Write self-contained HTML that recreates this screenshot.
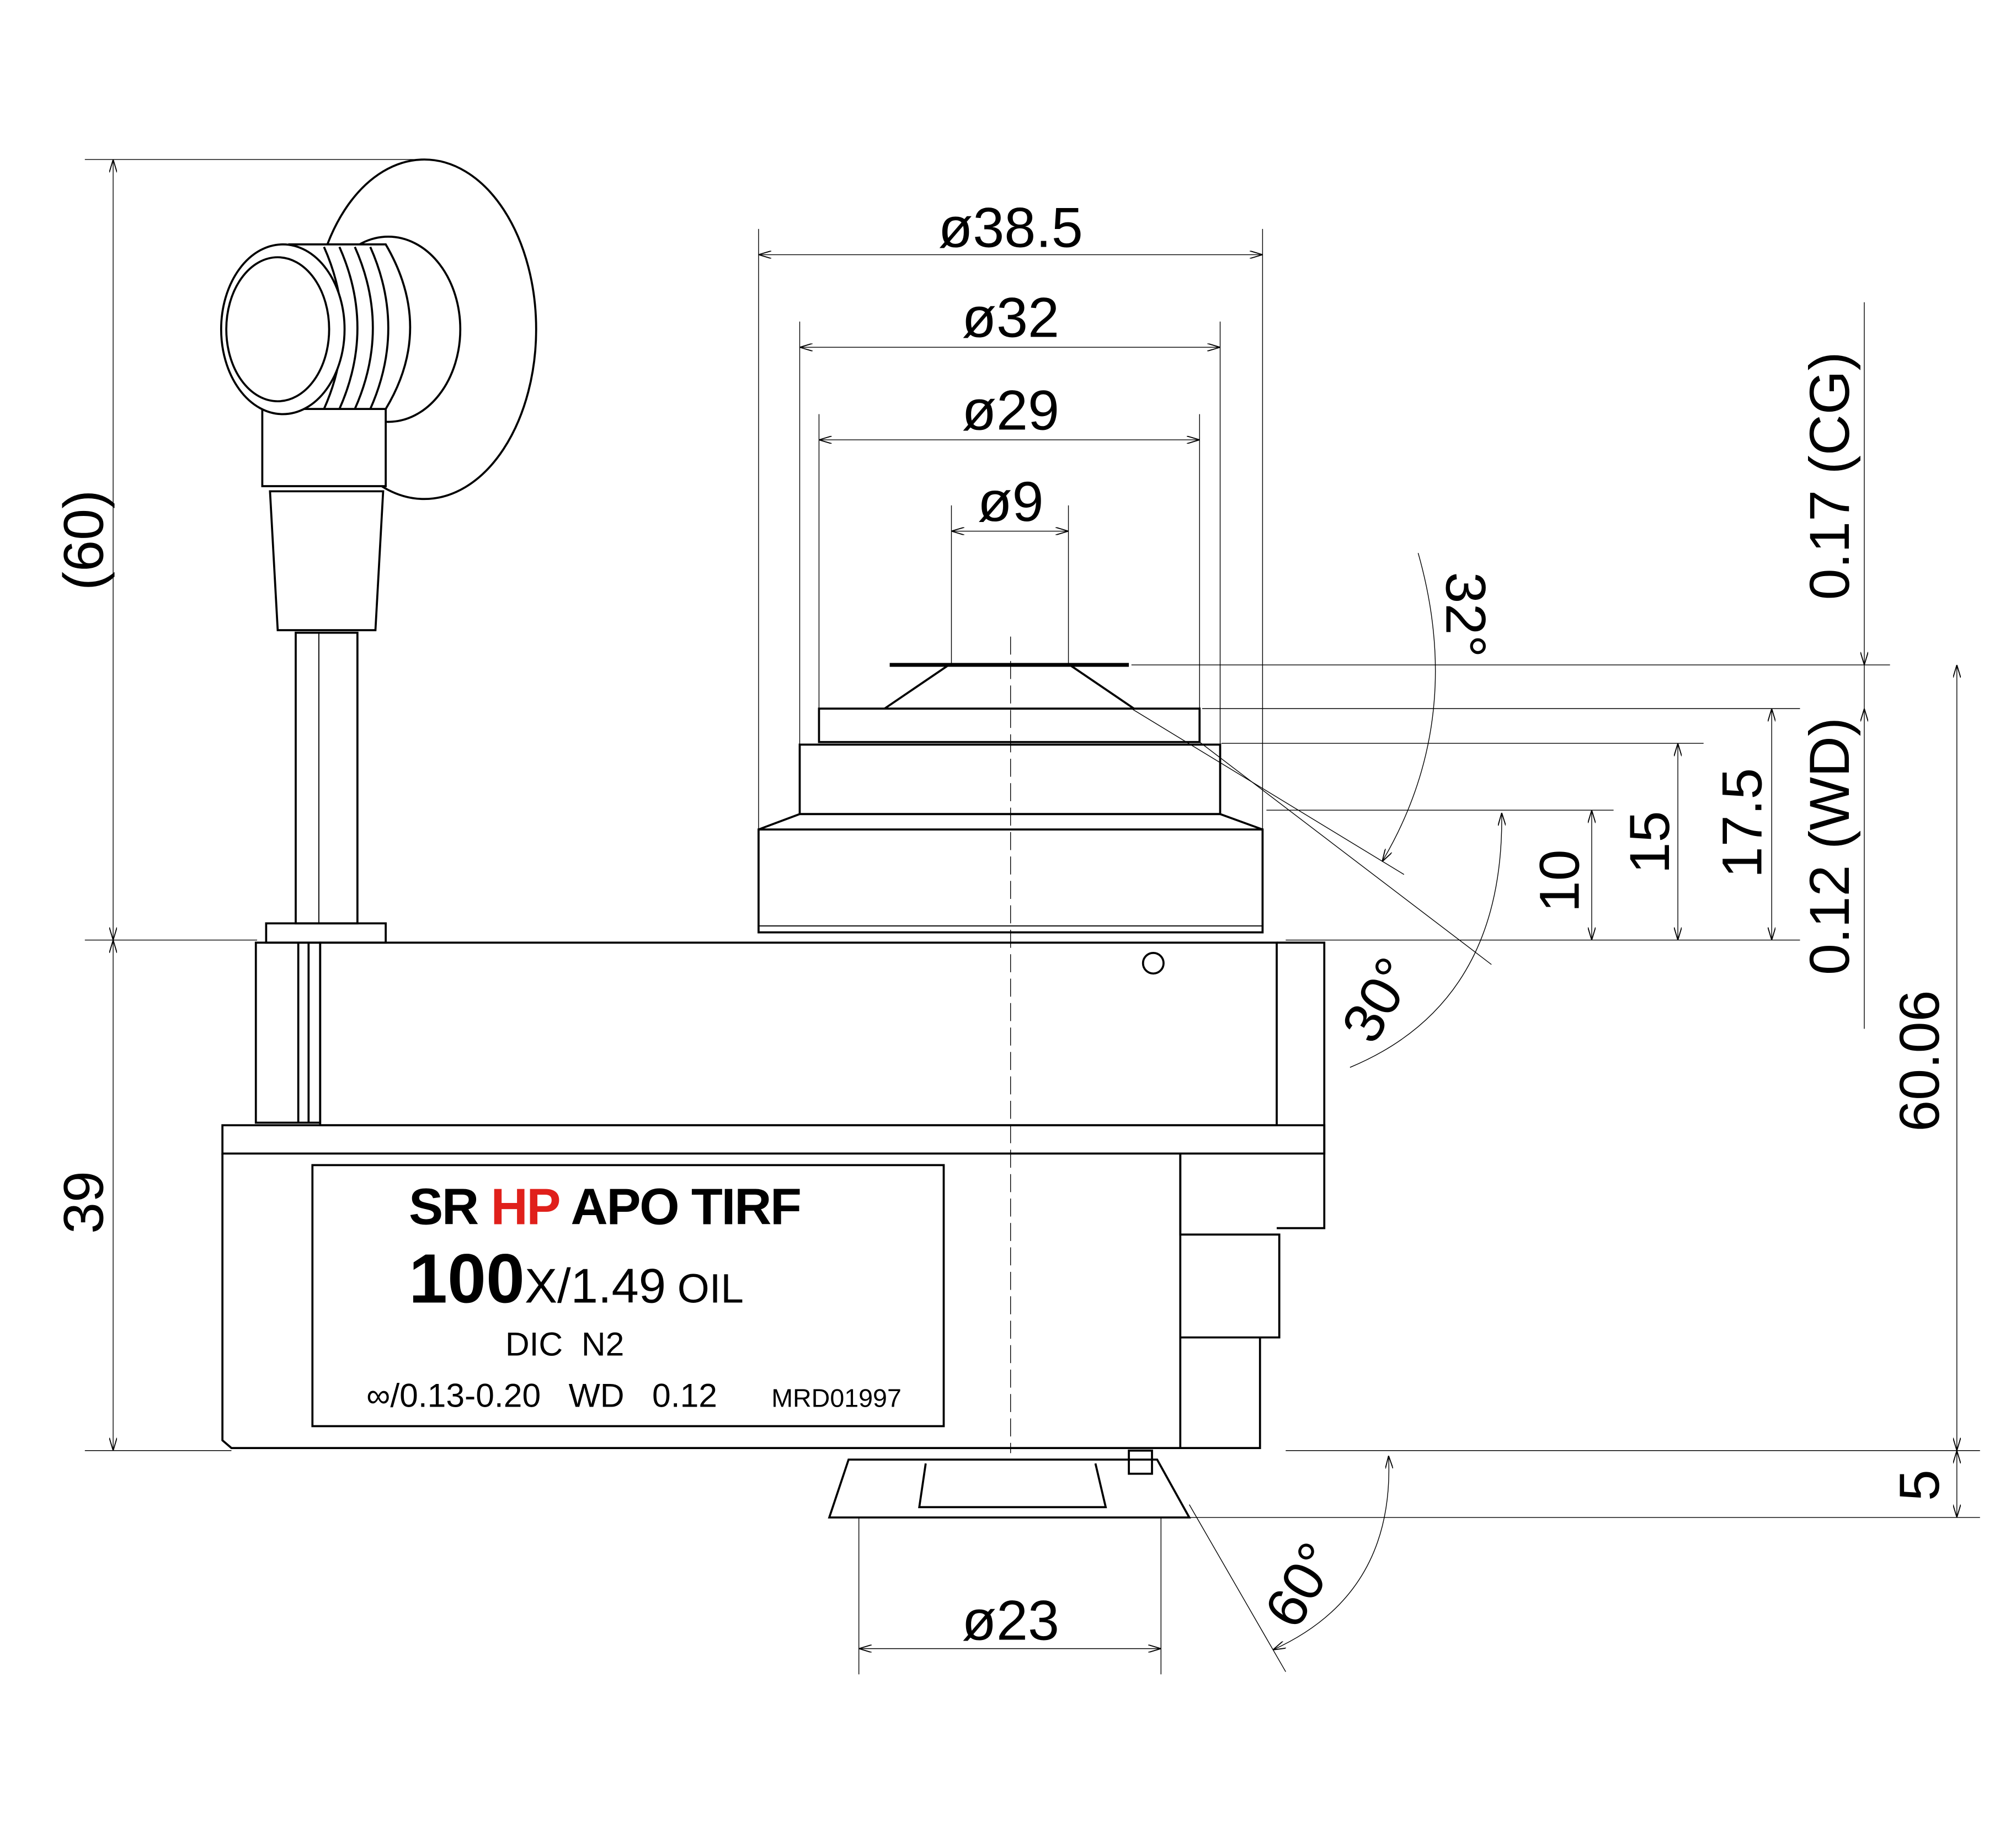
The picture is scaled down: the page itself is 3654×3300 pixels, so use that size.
<!DOCTYPE html>
<html><head><meta charset="utf-8"><style>html,body{margin:0;padding:0;background:#fff}svg{display:block}</style></head><body>
<svg width="3654" height="3300" viewBox="0 0 1568 1416" xmlns="http://www.w3.org/2000/svg" font-family="Liberation Sans, Arial, sans-serif">
<defs><marker id="a" viewBox="0 0 10 6" refX="10" refY="3" markerWidth="10" markerHeight="6" orient="auto-start-reverse" markerUnits="userSpaceOnUse"><path d="M0,0 L10,3 L0,6" fill="none" stroke="#000" stroke-width="0.8"/></marker></defs>
<g stroke="#000" stroke-width="0.6" fill="none">
<line x1="66" y1="124" x2="335" y2="124"/>
<line x1="66" y1="731" x2="200" y2="731"/>
<line x1="66" y1="1128" x2="180" y2="1128"/>
<line x1="88" y1="124" x2="88" y2="731" marker-start="url(#a)" marker-end="url(#a)"/>
<line x1="88" y1="731" x2="88" y2="1128" marker-start="url(#a)" marker-end="url(#a)"/>
<line x1="590" y1="178" x2="590" y2="645"/><line x1="982" y1="178" x2="982" y2="645"/>
<line x1="590" y1="198" x2="982" y2="198" marker-start="url(#a)" marker-end="url(#a)"/>
<line x1="622" y1="250" x2="622" y2="579"/><line x1="949" y1="250" x2="949" y2="579"/>
<line x1="622" y1="270" x2="949" y2="270" marker-start="url(#a)" marker-end="url(#a)"/>
<line x1="637" y1="322" x2="637" y2="551"/><line x1="933" y1="322" x2="933" y2="551"/>
<line x1="637" y1="342" x2="933" y2="342" marker-start="url(#a)" marker-end="url(#a)"/>
<line x1="740" y1="393" x2="740" y2="517"/><line x1="831" y1="393" x2="831" y2="517"/>
<line x1="740" y1="413" x2="831" y2="413" marker-start="url(#a)" marker-end="url(#a)"/>
<line x1="786" y1="495" x2="786" y2="1130" stroke-dasharray="14,5"/>
<line x1="880" y1="517" x2="1470" y2="517"/>
<line x1="935" y1="551" x2="1400" y2="551"/>
<line x1="950" y1="578" x2="1325" y2="578"/>
<line x1="985" y1="630" x2="1255" y2="630"/>
<line x1="1000" y1="731" x2="1400" y2="731"/>
<line x1="1000" y1="1128" x2="1540" y2="1128"/>
<line x1="925" y1="1180" x2="1540" y2="1180"/>
<line x1="1238" y1="630" x2="1238" y2="731" marker-start="url(#a)" marker-end="url(#a)"/>
<line x1="1305" y1="578" x2="1305" y2="731" marker-start="url(#a)" marker-end="url(#a)"/>
<line x1="1378" y1="551" x2="1378" y2="731" marker-start="url(#a)" marker-end="url(#a)"/>
<line x1="1450" y1="235" x2="1450" y2="517" marker-end="url(#a)"/>
<line x1="1450" y1="517" x2="1450" y2="551" />
<line x1="1450" y1="551" x2="1450" y2="800" marker-start="url(#a)"/>
<line x1="1522" y1="517" x2="1522" y2="1128" marker-start="url(#a)" marker-end="url(#a)"/>
<line x1="1522" y1="1128" x2="1522" y2="1180" marker-start="url(#a)" marker-end="url(#a)"/>
<line x1="880" y1="551" x2="1092" y2="680"/>
<path d="M1103,430 Q1140,560 1075,670" marker-end="url(#a)"/>
<line x1="933" y1="577" x2="1160" y2="750"/>
<path d="M1168,632 Q1170,780 1050,830" marker-start="url(#a)"/>
<line x1="925" y1="1170" x2="1000" y2="1300"/>
<path d="M1080,1132 Q1085,1240 990,1283" marker-start="url(#a)" marker-end="url(#a)"/>
<line x1="668" y1="1180" x2="668" y2="1302"/><line x1="903" y1="1180" x2="903" y2="1302"/>
<line x1="668" y1="1282" x2="903" y2="1282" marker-start="url(#a)" marker-end="url(#a)"/>
</g>
<g stroke="#000" stroke-width="1.6" fill="none">
<rect x="590" y="645" width="392" height="80"/>
<line x1="590" y1="720" x2="982" y2="720" stroke-width="0.8"/>
<path d="M590,645 L622,633 L949,633 L982,645"/>
<rect x="622" y="579" width="327" height="54"/>
<rect x="637" y="551" width="296" height="26"/>
<path d="M688,551 L738,517 M832,517 L882,551"/>
<line x1="692" y1="517" x2="878" y2="517" stroke-width="3"/>
<rect x="249" y="733" width="744" height="142"/>
<path d="M993,733 L1030,733 L1030,955 L993,955"/>
<rect x="173" y="875" width="857" height="22"/>
<path d="M173,897 L173,1120 L180,1126 L918,1126 L918,897"/>
<path d="M918,897 L918,960 L995,960 L995,1040 L918,1040 M918,1040 L980,1040 L980,1126 L918,1126"/>
<circle cx="897" cy="749" r="8"/>
<rect x="243" y="906" width="491" height="203"/>
<path d="M660,1135 L900,1135 L925,1180 L645,1180 Z"/>
<path d="M720,1138 L715,1172 L860,1172 L852,1138"/>
<rect x="878" y="1128" width="18" height="18"/>
<rect x="207" y="718" width="93" height="15"/>
<rect x="199" y="733" width="50" height="140"/>
<line x1="232" y1="733" x2="232" y2="873"/><line x1="240" y1="733" x2="240" y2="873"/>
<rect x="230" y="492" width="48" height="226"/>
<line x1="248" y1="492" x2="248" y2="718" stroke-width="0.8"/>
<ellipse cx="330" cy="256" rx="87" ry="132" fill="#fff"/>
<ellipse cx="302" cy="256" rx="56" ry="72" fill="#fff"/>
<path d="M210,382 L298,382 L292,490 L216,490 Z" fill="#fff"/>
<path d="M204,318 L300,318 L300,378 L204,378 Z" fill="#fff"/>
<path d="M225,190 L300,190 Q338,255 300,318 L225,318 Z" fill="#fff"/>
<path d="M252,192 Q280,255 252,318 M264,192 Q292,255 264,318 M276,192 Q304,255 276,318 M288,192 Q316,255 288,318"/>
<ellipse cx="220" cy="256" rx="48" ry="66" fill="#fff"/>
<ellipse cx="216" cy="256" rx="40" ry="56"/>
</g>
<g font-size="44" text-anchor="middle" fill="#000">
<text x="786" y="192">ø38.5</text>
<text x="786" y="262">ø32</text>
<text x="786" y="334">ø29</text>
<text x="786" y="405">ø9</text>
<text x="786" y="1275">ø23</text>
<text transform="translate(80,420) rotate(-90)">(60)</text>
<text transform="translate(80,935) rotate(-90)">39</text>
<text transform="translate(1228,685) rotate(-90)">10</text>
<text transform="translate(1298,655) rotate(-90)">15</text>
<text transform="translate(1370,640) rotate(-90)">17.5</text>
<text transform="translate(1438,370) rotate(-90)">0.17 (CG)</text>
<text transform="translate(1438,658) rotate(-90)">0.12 (WD)</text>
<text transform="translate(1508,825) rotate(-90)">60.06</text>
<text transform="translate(1508,1155) rotate(-90)">5</text>
<text transform="translate(1125,478) rotate(90)">32°</text>
<text transform="translate(1085,785) rotate(-60)">30°</text>
<text transform="translate(1025,1240) rotate(-60)">60°</text>
</g>
<g fill="#000" font-weight="bold">
<text x="318" y="952" font-size="40" letter-spacing="-1">SR <tspan fill="#e0201b">HP</tspan> APO TIRF</text>
<text x="318" y="1013" font-size="54">100<tspan font-weight="normal" font-size="38">X/1.49</tspan><tspan font-weight="normal" font-size="32"> OIL</tspan></text>
</g>
<g fill="#000" font-size="26">
<text x="393" y="1054">DIC&#160;&#160;N2</text>
<text x="285" y="1094">∞/0.13-0.20&#160;&#160;&#160;WD&#160;&#160;&#160;0.12</text>
<text x="600" y="1094" font-size="20">MRD01997</text>
</g>
</svg>
</body></html>
